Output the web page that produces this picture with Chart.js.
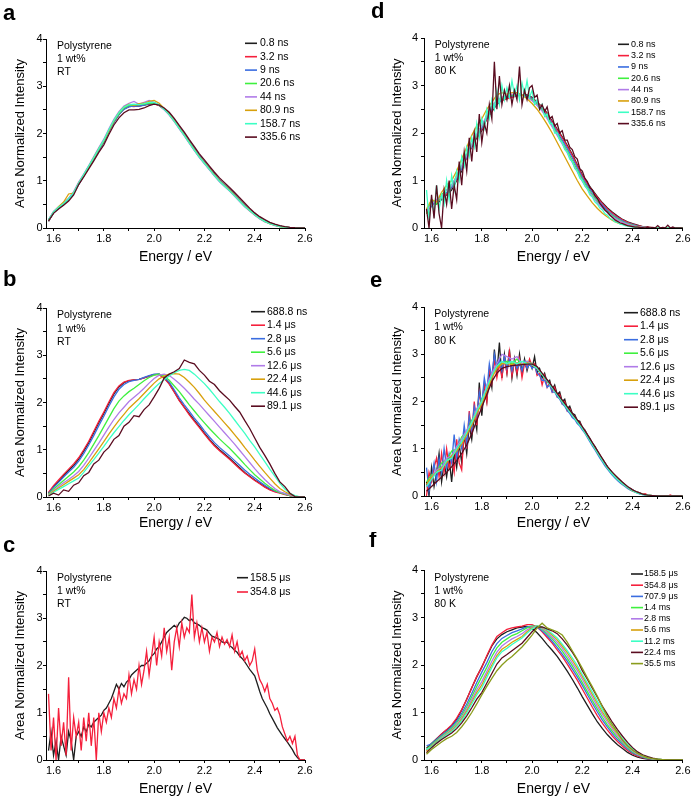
<!DOCTYPE html>
<html><head><meta charset="utf-8">
<script src="https://cdn.jsdelivr.net/npm/chart.js@4.4.0/dist/chart.umd.min.js"></script>
<style>
html,body{margin:0;padding:0;background:#fff;}
body{width:692px;height:799px;position:relative;overflow:hidden;}
.pan{position:absolute;width:346px;height:266px;}
canvas{display:block;}
</style></head><body>
<div class="pan" style="left:0;top:0"><canvas id="ca" width="346" height="266"></canvas></div>
<div class="pan" style="left:346px;top:0"><canvas id="cd" width="346" height="266"></canvas></div>
<div class="pan" style="left:0;top:266px"><canvas id="cb" width="346" height="266"></canvas></div>
<div class="pan" style="left:346px;top:266px"><canvas id="ce" width="346" height="266"></canvas></div>
<div class="pan" style="left:0;top:532px"><canvas id="cc" width="346" height="266"></canvas></div>
<div class="pan" style="left:346px;top:532px"><canvas id="cf" width="346" height="266"></canvas></div>
<script>
// ---------- energy grids (eV) ----------
const E2 = [1.58,1.60,1.62,1.64,1.66,1.68,1.70,1.72,1.74,1.76,1.78,1.80,1.82,1.84,1.86,1.88,1.90,1.92,1.94,1.96,1.98,2.00,2.02,2.04,2.06,2.08,2.10,2.12,2.14,2.16,2.18,2.20,2.22,2.24,2.26,2.28,2.30,2.32,2.34,2.36,2.38,2.40,2.42,2.44,2.46,2.48,2.50,2.52,2.54,2.56,2.58,2.60];
const E1 = [1.58,1.59,1.60,1.61,1.62,1.63,1.64,1.65,1.66,1.67,1.68,1.69,1.70,1.71,1.72,1.73,1.74,1.75,1.76,1.77,1.78,1.79,1.80,1.81,1.82,1.83,1.84,1.85,1.86,1.87,1.88,1.89,1.90,1.91,1.92,1.93,1.94,1.95,1.96,1.97,1.98,1.99,2.00,2.01,2.02,2.03,2.04,2.05,2.06,2.07,2.08,2.09,2.10,2.11,2.12,2.13,2.14,2.15,2.16,2.17,2.18,2.19,2.20,2.21,2.22,2.23,2.24,2.25,2.26,2.27,2.28,2.29,2.30,2.31,2.32,2.33,2.34,2.35,2.36,2.37,2.38,2.39,2.40,2.41,2.42,2.43,2.44,2.45,2.46,2.47,2.48,2.49,2.50,2.51,2.52,2.53,2.54,2.55,2.56,2.57,2.58,2.59,2.60];

// ---------- axis ranges ----------
const X_MIN = 1.57, X_MAX = 2.6, Y_MIN = 0, Y_MAX = 4;

// ---------- panel a (RT, ns) ----------
const aLabels = ['0.8 ns','3.2 ns','9 ns','20.6 ns','44 ns','80.9 ns','158.7 ns','335.6 ns'];
const a_0_8 = [0.14,0.33,0.42,0.50,0.60,0.73,0.93,1.10,1.28,1.46,1.65,1.82,2.04,2.24,2.40,2.52,2.57,2.58,2.58,2.60,2.62,2.64,2.60,2.52,2.42,2.29,2.14,1.99,1.83,1.68,1.53,1.40,1.27,1.14,1.02,0.92,0.82,0.71,0.60,0.49,0.39,0.30,0.22,0.16,0.11,0.07,0.04,0.02,0.01,0.005,0,0];
const a_3_2 = [0.16,0.32,0.43,0.51,0.61,0.74,0.94,1.11,1.29,1.47,1.66,1.83,2.05,2.25,2.41,2.53,2.58,2.57,2.59,2.61,2.63,2.63,2.59,2.51,2.41,2.28,2.13,1.98,1.82,1.67,1.52,1.39,1.26,1.13,1.01,0.91,0.81,0.70,0.59,0.48,0.38,0.29,0.21,0.15,0.10,0.06,0.04,0.02,0.01,0.005,0,0];
const a_9 = [0.15,0.32,0.42,0.50,0.60,0.73,0.92,1.10,1.28,1.46,1.64,1.82,2.04,2.24,2.40,2.51,2.57,2.58,2.58,2.60,2.63,2.64,2.60,2.52,2.42,2.29,2.14,1.99,1.83,1.68,1.53,1.39,1.26,1.13,1.01,0.91,0.81,0.70,0.59,0.48,0.38,0.29,0.21,0.15,0.10,0.06,0.04,0.02,0.01,0.005,0,0];
const a_20_6 = [0.17,0.34,0.44,0.52,0.62,0.75,0.95,1.12,1.30,1.48,1.67,1.84,2.06,2.26,2.42,2.54,2.60,2.60,2.61,2.62,2.64,2.65,2.60,2.51,2.40,2.26,2.11,1.96,1.80,1.65,1.50,1.37,1.24,1.11,0.99,0.89,0.79,0.68,0.57,0.46,0.37,0.28,0.20,0.14,0.09,0.06,0.03,0.02,0.01,0,0,0];
const a_44 = [0.18,0.35,0.45,0.53,0.63,0.77,0.97,1.14,1.32,1.51,1.70,1.88,2.10,2.30,2.46,2.58,2.64,2.68,2.62,2.66,2.70,2.66,2.60,2.50,2.39,2.25,2.10,1.95,1.79,1.64,1.49,1.36,1.23,1.10,0.98,0.88,0.78,0.67,0.56,0.45,0.36,0.27,0.19,0.13,0.09,0.05,0.03,0.02,0.01,0,0,0];
const a_80_9 = [0.16,0.33,0.45,0.55,0.72,0.74,0.95,1.12,1.30,1.49,1.68,1.85,2.06,2.27,2.44,2.56,2.62,2.60,2.63,2.64,2.68,2.70,2.64,2.53,2.41,2.27,2.12,1.97,1.81,1.66,1.51,1.38,1.25,1.12,1.00,0.90,0.80,0.69,0.58,0.47,0.37,0.28,0.20,0.14,0.09,0.06,0.03,0.02,0.01,0,0,0];
const a_158_7 = [0.17,0.34,0.44,0.52,0.62,0.75,0.95,1.13,1.31,1.49,1.68,1.86,2.08,2.28,2.44,2.56,2.61,2.62,2.61,2.63,2.66,2.66,2.61,2.51,2.40,2.26,2.11,1.96,1.80,1.65,1.50,1.37,1.24,1.11,0.99,0.89,0.79,0.68,0.57,0.46,0.37,0.28,0.20,0.14,0.09,0.06,0.03,0.02,0.01,0,0,0];
const a_335_6 = [0.15,0.31,0.40,0.48,0.57,0.70,0.92,1.08,1.25,1.42,1.60,1.76,1.98,2.18,2.33,2.44,2.50,2.50,2.51,2.54,2.59,2.62,2.60,2.54,2.45,2.32,2.17,2.03,1.87,1.72,1.57,1.44,1.31,1.18,1.06,0.96,0.86,0.75,0.64,0.53,0.42,0.32,0.24,0.18,0.12,0.08,0.05,0.03,0.015,0.005,0,0];

// ---------- panel b (RT, ns-us) ----------
const bLabels = ['688.8 ns','1.4 \u03bcs','2.8 \u03bcs','5.6 \u03bcs','12.6 \u03bcs','22.4 \u03bcs','44.6 \u03bcs','89.1 \u03bcs'];
const b_688_8 = [0.08,0.22,0.33,0.45,0.56,0.67,0.80,0.97,1.15,1.36,1.57,1.77,1.98,2.18,2.33,2.42,2.46,2.48,2.49,2.52,2.56,2.59,2.60,2.52,2.40,2.23,2.05,1.90,1.76,1.62,1.49,1.35,1.22,1.10,1.00,0.91,0.82,0.72,0.62,0.52,0.44,0.36,0.29,0.22,0.16,0.12,0.09,0.06,0.03,0,0,0];
const b_1_4 = [0.10,0.24,0.36,0.48,0.59,0.70,0.83,1.00,1.18,1.39,1.60,1.80,2.01,2.21,2.35,2.43,2.47,2.48,2.49,2.52,2.56,2.59,2.59,2.51,2.39,2.22,2.04,1.89,1.74,1.60,1.47,1.33,1.20,1.08,0.98,0.89,0.80,0.70,0.60,0.51,0.43,0.35,0.28,0.21,0.15,0.11,0.08,0.05,0.03,0,0,0];
const b_2_8 = [0.07,0.20,0.31,0.42,0.53,0.63,0.76,0.92,1.10,1.30,1.51,1.71,1.92,2.12,2.28,2.38,2.44,2.47,2.49,2.53,2.57,2.60,2.60,2.54,2.43,2.27,2.10,1.95,1.81,1.67,1.54,1.40,1.27,1.15,1.05,0.96,0.87,0.77,0.67,0.57,0.48,0.40,0.32,0.25,0.18,0.13,0.10,0.07,0.04,0.01,0,0];
const b_5_6 = [0.06,0.17,0.26,0.35,0.44,0.53,0.64,0.78,0.94,1.12,1.30,1.49,1.68,1.87,2.03,2.14,2.23,2.30,2.38,2.46,2.53,2.58,2.60,2.56,2.47,2.35,2.23,2.09,1.95,1.82,1.69,1.57,1.45,1.34,1.23,1.13,1.03,0.92,0.81,0.69,0.58,0.47,0.38,0.29,0.21,0.14,0.09,0.06,0.03,0.01,0,0];
const b_12_6 = [0.05,0.14,0.22,0.30,0.37,0.45,0.54,0.67,0.82,0.98,1.14,1.31,1.48,1.64,1.78,1.90,2.02,2.11,2.20,2.30,2.41,2.51,2.58,2.60,2.57,2.49,2.40,2.30,2.19,2.07,1.96,1.84,1.72,1.60,1.48,1.36,1.24,1.12,0.99,0.86,0.73,0.60,0.48,0.37,0.27,0.18,0.11,0.07,0.04,0.01,0,0];
const b_22_4 = [0.04,0.12,0.19,0.26,0.33,0.40,0.47,0.58,0.72,0.87,1.02,1.17,1.33,1.48,1.62,1.75,1.88,1.98,2.08,2.19,2.30,2.41,2.50,2.56,2.60,2.61,2.60,2.53,2.43,2.32,2.19,2.05,1.93,1.81,1.69,1.57,1.45,1.32,1.19,1.05,0.92,0.78,0.65,0.52,0.40,0.28,0.18,0.11,0.06,0.02,0,0];
const b_44_6 = [0.03,0.10,0.16,0.22,0.28,0.34,0.40,0.52,0.66,0.79,0.93,1.07,1.22,1.36,1.49,1.62,1.74,1.85,1.96,2.08,2.19,2.30,2.40,2.48,2.56,2.63,2.68,2.70,2.68,2.60,2.50,2.40,2.28,2.15,2.02,1.90,1.77,1.63,1.49,1.35,1.20,1.06,0.90,0.75,0.59,0.44,0.29,0.17,0.08,0.03,0,0];
const b_89_1 = [0.02,0.08,0.04,0.15,0.12,0.25,0.30,0.45,0.52,0.70,0.78,0.95,1.05,1.22,1.30,1.50,1.58,1.72,1.70,1.85,1.95,2.12,2.30,2.52,2.60,2.65,2.72,2.90,2.85,2.82,2.68,2.58,2.45,2.38,2.25,2.15,2.05,1.92,1.80,1.62,1.45,1.25,1.05,0.88,0.70,0.50,0.32,0.22,0.08,0.01,0,0];

// ---------- panel c (RT, us) ----------
const cLabels = ['158.5 \u03bcs','354.8 \u03bcs'];
const c_158_5 = [0.2,0.6,0.1,0.4,0.0,0.5,0.3,0.1,0.6,0.4, 0.0,0.5,0.6,0.5,0.7,0.6,0.75,0.7,0.8,0.85, 0.9,0.95,1.05,1.1,1.2,1.3,1.45,1.6,1.5,1.62, 1.55,1.65,1.7,1.8,1.85,1.9,1.95,2.0,2.0,2.05, 2.1,2.2,2.25,2.35,2.4,2.5,2.6,2.7,2.75,2.8, 2.85,2.8,2.9,2.95,3.02,3.0,2.95,2.98,2.9,2.88, 2.85,2.8,2.78,2.75,2.68,2.62,2.6,2.58,2.55,2.5, 2.48,2.5,2.42,2.38,2.32,2.28,2.2,2.15,2.08,2.0, 1.92,1.85,1.78,1.62,1.45,1.3,1.2,1.1,0.98,0.88, 0.78,0.68,0.6,0.52,0.45,0.38,0.3,0.22,0.12,0.05, 0,0,0];
const c_354_8 = [1.4,0.2,0.9,0.0,1.1,0.3,0.8,0.1,1.75,0.2, 0.9,0.5,0.8,0.2,0.9,0.4,1.0,0.3,0.9,0.0, 1.0,0.6,1.0,0.8,1.1,0.9,1.3,1.1,1.5,1.2, 1.4,1.3,1.8,1.4,1.7,1.5,2.0,1.6,1.9,2.3, 1.8,2.2,2.6,2.0,2.5,2.2,2.8,2.3,2.6,1.9, 2.5,2.8,2.4,2.9,2.6,2.8,2.7,3.5,2.6,2.9, 2.5,2.8,2.5,2.7,2.3,2.6,2.5,2.7,2.4,2.6, 2.45,2.55,2.4,2.65,2.3,2.5,2.2,2.3,2.1,2.2, 2.0,2.1,2.35,1.9,1.7,1.6,1.45,1.6,1.3,1.2, 1.05,1.1,0.95,0.7,0.55,0.4,0.5,0.35,0.5,0.1, 0,0,0];

// ---------- panel d (80 K, ns) ----------
const dLabels = ['0.8 ns','3.2 ns','9 ns','20.6 ns','44 ns','80.9 ns','158.7 ns','335.6 ns'];
const d_0_8 = [0.35,0.55,0.5,0.6,0.7,0.8,1.0,1.2,1.5,1.7,1.9,2.05,2.3,2.45,2.6,2.7,2.75,2.78,2.8,2.8,2.8,2.75,2.65,2.55,2.42,2.25,2.08,1.92,1.74,1.55,1.33,1.12,0.95,0.80,0.66,0.53,0.42,0.33,0.25,0.18,0.13,0.09,0.06,0.03,0.02,0.01,0.005,0,0,0,0,0];
const d_3_2 = [0.3,0.5,0.55,0.62,0.72,0.85,1.02,1.25,1.48,1.72,1.92,2.08,2.3,2.48,2.62,2.68,2.72,2.75,2.78,2.8,2.78,2.73,2.64,2.54,2.4,2.23,2.06,1.9,1.72,1.53,1.31,1.1,0.93,0.78,0.64,0.51,0.4,0.31,0.23,0.17,0.12,0.08,0.05,0.03,0.02,0.01,0,0,0,0,0,0];
const d_9 = [0.4,0.45,0.6,0.65,0.75,0.85,1.05,1.25,1.5,1.72,1.95,2.1,2.32,2.5,2.62,2.7,2.75,2.78,2.8,2.8,2.78,2.72,2.62,2.5,2.36,2.2,2.02,1.85,1.67,1.48,1.27,1.06,0.89,0.74,0.6,0.48,0.37,0.28,0.21,0.15,0.1,0.07,0.04,0.02,0.01,0,0,0,0,0,0,0];
const d_20_6 = [0.3,0.6,0.5,0.7,0.8,0.9,1.1,1.3,1.55,1.75,1.95,2.15,2.35,2.55,2.68,2.72,2.78,2.8,2.82,2.8,2.76,2.7,2.6,2.48,2.33,2.16,1.98,1.8,1.62,1.42,1.22,1.02,0.85,0.7,0.56,0.44,0.34,0.26,0.19,0.13,0.09,0.06,0.03,0.02,0.01,0,0,0,0,0,0,0];
const d_44 = [0.35,0.5,0.6,0.65,0.8,0.9,1.08,1.3,1.52,1.75,1.98,2.15,2.38,2.55,2.7,2.75,2.8,2.82,2.82,2.8,2.75,2.68,2.58,2.46,2.3,2.13,1.95,1.77,1.58,1.38,1.18,0.98,0.82,0.67,0.53,0.42,0.32,0.24,0.17,0.12,0.08,0.05,0.03,0.02,0.01,0,0,0,0,0,0,0];
const d_80_9 = [0.4,0.6,0.55,0.75,0.9,1.0,1.2,1.45,1.7,1.95,2.15,2.3,2.5,2.65,2.8,2.85,2.82,2.85,2.85,2.8,2.72,2.62,2.5,2.35,2.18,2.0,1.8,1.6,1.4,1.2,1.0,0.82,0.67,0.53,0.41,0.31,0.23,0.16,0.11,0.08,0.05,0.03,0.02,0.01,0,0,0,0,0,0,0,0];
const d_158_7 = [0.8,0.2,0.6,0.3,0.9,0.4,0.7,0.5,1.0,0.6, 1.1,0.8,1.2,1.0,1.5,1.3,1.7,1.5,1.9,1.7, 2.2,1.9,2.3,2.1,2.5,2.3,2.7,2.5,2.9,2.6, 3.0,2.7,2.95,2.75,3.1,2.8,3.0,2.7,3.05,2.8, 3.1,2.75,2.9,2.6,2.7,2.5,2.6,2.35,2.4,2.2, 2.2,2.0,2.0,1.85,1.8,1.65,1.6,1.45,1.4,1.25, 1.2,1.05,1.0,0.88,0.82,0.7,0.65,0.55,0.5,0.42, 0.38,0.3,0.27,0.2,0.18,0.13,0.12,0.08,0.07,0.05, 0.04,0.03,0.02,0.02,0.01,0.01,0,0,0,0, 0,0,0,0,0,0,0,0,0,0, 0,0,0];
const d_335_6 = [0.4,0.0,0.7,0.2,0.9,0.3,0.0,0.8,0.5,1.0, 0.4,0.9,0.6,1.4,0.9,1.6,1.2,1.9,1.4,2.0, 1.6,2.4,1.8,2.2,2.0,2.6,2.3,3.5,2.5,3.2, 2.6,2.9,2.7,3.0,2.6,2.9,2.7,3.4,2.6,2.9, 2.7,2.95,3.0,2.75,2.8,2.5,2.6,2.45,2.55,2.3, 2.35,2.15,2.2,2.0,2.05,1.85,1.85,1.7,1.65,1.5, 1.45,1.25,1.2,1.05,0.98,0.85,0.8,0.68,0.62,0.52, 0.45,0.38,0.33,0.27,0.22,0.17,0.14,0.11,0.09,0.07, 0.05,0.04,0.03,0.02,0.02,0.01,0.01,0,0.02,0, 0.01,0,0.05,0,0.01,0,0.06,0,0.02,0, 0,0,0];

// ---------- panel e (80 K, ns-us) ----------
const eLabels = ['688.8 ns','1.4 \u03bcs','2.8 \u03bcs','5.6 \u03bcs','12.6 \u03bcs','22.4 \u03bcs','44.6 \u03bcs','89.1 \u03bcs'];
const e_688_8 = [0.3,0.0,0.6,0.2,0.5,0.9,0.3,0.7,0.4,0.8, 0.3,0.9,0.6,1.1,0.7,1.3,0.9,1.5,1.2,1.7, 1.4,2.4,1.7,2.3,2.0,2.6,2.3,3.1,2.6,3.25, 2.5,3.0,2.6,3.1,2.5,2.9,2.55,3.0,2.6,2.9, 2.65,2.85,2.7,2.95,2.6,2.7,2.5,2.6,2.4,2.45, 2.25,2.35,2.15,2.2,2.0,2.05,1.85,1.9,1.75,1.72, 1.6,1.58,1.45,1.4,1.3,1.22,1.12,1.05,0.95,0.86, 0.78,0.7,0.62,0.55,0.49,0.43,0.38,0.33,0.28,0.23, 0.19,0.16,0.13,0.1,0.08,0.06,0.04,0.03,0.02,0.01, 0.01,0,0,0,0,0,0,0,0,0, 0,0,0];
const e_1_4 = [0.0,0.5,0.3,0.6,0.8,0.4,0.9,0.5,1.0,0.6, 0.8,0.5,1.2,0.7,0.55,1.4,1.0,1.8,1.3,2.0, 1.5,2.2,1.9,2.4,2.0,2.7,2.4,2.9,2.5,2.8, 2.5,2.9,2.6,3.05,2.55,2.85,2.6,2.9,2.5,2.8, 2.7,2.9,2.75,2.8,2.55,2.6,2.35,2.55,2.3,2.4, 2.2,2.3,2.1,2.15,1.95,2.0,1.8,1.85,1.7,1.68, 1.55,1.55,1.42,1.38,1.28,1.2,1.1,1.02,0.93,0.84, 0.76,0.68,0.6,0.53,0.47,0.41,0.36,0.31,0.26,0.22, 0.18,0.15,0.12,0.09,0.07,0.05,0.04,0.05,0.02,0.01, 0,0,0,0,0,0,0,0.02,0,0, 0,0,0];
const e_2_8 = [0.6,0.1,0.4,0.7,0.3,0.8,0.5,1.0,0.6,0.9, 0.7,1.3,0.8,1.2,1.0,1.5,1.1,1.7,1.4,1.9, 1.7,2.2,1.95,2.5,2.2,2.8,2.5,3.0,2.7,2.9, 2.65,2.95,2.7,2.9,2.65,2.85,2.7,2.8,2.65,2.85, 2.7,2.8,2.7,2.75,2.6,2.55,2.45,2.45,2.3,2.35, 2.2,2.2,2.1,2.05,1.95,1.9,1.8,1.75,1.66,1.62, 1.53,1.48,1.4,1.33,1.24,1.15,1.06,0.98,0.89,0.8, 0.72,0.64,0.57,0.5,0.44,0.38,0.33,0.28,0.24,0.2, 0.16,0.13,0.1,0.08,0.06,0.04,0.03,0.02,0.01,0, 0,0,0,0,0,0,0,0,0,0, 0,0,0];
const e_5_6 = [0.3,0.45,0.5,0.7,0.75,0.95,1.0,1.25,1.35,1.6,1.8,2.05,2.3,2.55,2.75,2.8,2.85,2.8,2.9,2.78,2.85,2.8,2.7,2.58,2.44,2.3,2.15,2.0,1.86,1.72,1.58,1.44,1.27,1.1,0.93,0.76,0.6,0.47,0.36,0.27,0.19,0.12,0.07,0.04,0.02,0.01,0,0,0,0,0,0];
const e_12_6 = [0.2,0.4,0.55,0.6,0.8,0.85,1.05,1.2,1.4,1.55,1.85,2.0,2.35,2.6,2.8,3.0,2.95,2.9,2.95,2.8,2.85,2.78,2.7,2.58,2.45,2.3,2.15,2.01,1.87,1.73,1.59,1.45,1.28,1.11,0.94,0.77,0.61,0.48,0.37,0.27,0.19,0.12,0.07,0.04,0.02,0.01,0,0,0,0,0,0];
const e_22_4 = [0.25,0.4,0.5,0.6,0.7,0.85,0.95,1.1,1.3,1.5,1.75,1.95,2.2,2.5,2.7,2.8,2.8,2.78,2.82,2.78,2.82,2.78,2.7,2.58,2.44,2.3,2.15,2.0,1.86,1.72,1.58,1.44,1.27,1.1,0.93,0.76,0.6,0.47,0.36,0.26,0.18,0.11,0.07,0.04,0.02,0.01,0,0,0,0,0,0];
const e_44_6 = [0.2,0.35,0.5,0.55,0.75,0.8,1.0,1.15,1.35,1.55,1.8,2.0,2.3,2.55,2.75,2.85,2.8,2.85,2.8,2.85,2.8,2.78,2.7,2.57,2.43,2.29,2.14,2.0,1.85,1.71,1.57,1.43,1.26,1.09,0.92,0.75,0.59,0.46,0.35,0.26,0.18,0.11,0.06,0.03,0.02,0.01,0,0,0,0,0,0];
const e_89_1 = [0.1,0.2,0.3,0.4,0.5,0.62,0.75,0.9,1.08,1.32,1.6,1.88,2.15,2.42,2.6,2.7,2.74,2.76,2.77,2.78,2.79,2.79,2.74,2.6,2.46,2.32,2.17,2.03,1.89,1.75,1.61,1.47,1.3,1.13,0.96,0.79,0.62,0.5,0.39,0.29,0.2,0.13,0.08,0.04,0.02,0.01,0,0,0,0,0,0];

// ---------- panel f (80 K, us-ms) ----------
const fLabels = ['158.5 \u03bcs','354.8 \u03bcs','707.9 \u03bcs','1.4 ms','2.8 ms','5.6 ms','11.2 ms','22.4 ms','35.5 ms'];
const f_158_5 = [0.25,0.35,0.45,0.55,0.63,0.72,0.86,1.05,1.28,1.52,1.75,1.96,2.18,2.4,2.55,2.64,2.7,2.74,2.78,2.8,2.81,2.77,2.68,2.56,2.43,2.31,2.18,2.03,1.87,1.7,1.52,1.33,1.15,0.97,0.8,0.66,0.53,0.42,0.32,0.24,0.16,0.1,0.06,0.035,0.02,0.01,0,0,0,0,0,0];
const f_354_8 = [0.2,0.33,0.44,0.55,0.64,0.74,0.88,1.06,1.28,1.52,1.76,1.95,2.2,2.42,2.6,2.68,2.75,2.78,2.8,2.82,2.85,2.85,2.8,2.7,2.58,2.46,2.32,2.18,2.02,1.85,1.68,1.49,1.3,1.11,0.93,0.77,0.63,0.5,0.39,0.29,0.2,0.13,0.08,0.05,0.03,0.015,0.005,0,0,0,0,0];
const f_707_9 = [0.3,0.34,0.43,0.52,0.6,0.7,0.82,0.98,1.18,1.4,1.63,1.85,2.05,2.28,2.45,2.56,2.62,2.68,2.72,2.76,2.8,2.82,2.8,2.72,2.62,2.5,2.37,2.23,2.08,1.92,1.75,1.57,1.38,1.19,1.01,0.84,0.69,0.55,0.43,0.33,0.23,0.15,0.1,0.06,0.03,0.02,0.01,0,0,0,0,0];
const f_1400 = [0.22,0.32,0.41,0.5,0.58,0.67,0.78,0.93,1.12,1.33,1.55,1.75,1.95,2.18,2.36,2.48,2.55,2.62,2.66,2.72,2.78,2.82,2.82,2.75,2.66,2.55,2.43,2.29,2.14,1.98,1.81,1.63,1.44,1.25,1.07,0.9,0.74,0.6,0.47,0.36,0.26,0.17,0.11,0.07,0.04,0.02,0.01,0,0,0,0,0];
const f_2800 = [0.2,0.3,0.39,0.48,0.56,0.64,0.75,0.89,1.07,1.27,1.48,1.65,1.86,2.08,2.27,2.4,2.48,2.55,2.6,2.66,2.74,2.8,2.82,2.77,2.69,2.59,2.48,2.35,2.2,2.04,1.88,1.7,1.51,1.32,1.13,0.96,0.8,0.65,0.51,0.39,0.28,0.19,0.12,0.08,0.05,0.02,0.01,0,0,0,0,0];
const f_5600 = [0.18,0.29,0.38,0.46,0.54,0.62,0.72,0.86,1.03,1.22,1.42,1.58,1.8,2.0,2.2,2.33,2.4,2.48,2.54,2.6,2.7,2.78,2.82,2.79,2.72,2.63,2.53,2.4,2.26,2.1,1.94,1.76,1.57,1.38,1.19,1.01,0.85,0.69,0.55,0.42,0.3,0.21,0.14,0.09,0.05,0.03,0.01,0,0,0,0,0];
const f_11200 = [0.22,0.28,0.37,0.45,0.53,0.6,0.7,0.83,0.99,1.18,1.37,1.52,1.74,1.95,2.15,2.28,2.35,2.43,2.5,2.57,2.67,2.76,2.82,2.8,2.74,2.66,2.57,2.44,2.3,2.15,1.99,1.8,1.62,1.43,1.24,1.06,0.89,0.73,0.58,0.45,0.33,0.23,0.15,0.1,0.06,0.03,0.02,0.01,0,0,0,0];
const f_22400 = [0.15,0.26,0.35,0.43,0.5,0.57,0.66,0.78,0.93,1.1,1.28,1.42,1.62,1.82,2.02,2.15,2.22,2.3,2.38,2.46,2.58,2.7,2.8,2.8,2.76,2.72,2.66,2.55,2.42,2.27,2.1,1.88,1.7,1.51,1.32,1.13,0.96,0.79,0.64,0.5,0.37,0.26,0.17,0.11,0.07,0.04,0.02,0.01,0,0,0,0];
const f_35500 = [0.12,0.22,0.3,0.38,0.45,0.5,0.58,0.7,0.84,1.0,1.18,1.37,1.55,1.72,1.88,2.0,2.1,2.18,2.28,2.38,2.5,2.63,2.78,2.88,2.78,2.74,2.7,2.63,2.48,2.3,2.12,1.93,1.73,1.54,1.34,1.12,0.91,0.74,0.58,0.42,0.3,0.21,0.14,0.09,0.05,0.03,0.02,0.01,0,0,0,0];

// ---------- styles ----------
const FONT = 'Arial, "Liberation Sans", Helvetica, sans-serif';
const C = {k:'#1e1e1e', r:'#f5203c', b:'#3a6de0', g:'#3ff03f', p:'#b07be8', o:'#d8a00c', c:'#3cffc4', m:'#5a0c20', ol:'#8a9c1c'};
const EIGHT = [C.k, C.r, C.b, C.g, C.p, C.o, C.c, C.m];

function pts(xs, ys) {
  const n = Math.min(xs.length, ys.length);
  const out = [];
  for (let i = 0; i < n; i++) out.push({x: xs[i], y: ys[i]});
  return out;
}

function makePanel(id, P) {
  const n = P.series.length;
  const datasets = P.series.map((s, i) => ({
    label: s.label, data: pts(s.xs, s.ys), borderColor: s.color,
    borderWidth: 1.3, pointRadius: 0, fill: false, tension: 0, order: n - i
  }));
  const overlay = {
    id: 'overlay_' + id,
    afterDraw(chart) {
      const ctx = chart.ctx;
      ctx.save();
      ctx.fillStyle = '#000';
      ctx.textAlign = 'left';
      ctx.textBaseline = 'alphabetic';
      ctx.font = 'bold 22px ' + FONT;
      ctx.fillText(P.letter.t, P.letter.x, P.letter.y);
      ctx.textBaseline = 'middle';
      ctx.font = '10.5px ' + FONT;
      P.note.lines.forEach((t, i) => ctx.fillText(t, P.note.x, P.note.y + i * P.note.dy));
      ctx.font = P.leg.fs + 'px ' + FONT;
      P.series.forEach((s, i) => {
        const y = P.leg.y + i * P.leg.dy;
        ctx.strokeStyle = s.color; ctx.lineWidth = 1.6;
        ctx.beginPath(); ctx.moveTo(P.leg.x1, y); ctx.lineTo(P.leg.x2, y); ctx.stroke();
        ctx.fillStyle = '#000';
        ctx.fillText(s.label, P.leg.tx, y);
      });
      ctx.restore();
    }
  };
  new Chart(document.getElementById(id), {
    type: 'line',
    data: {datasets},
    options: {
      responsive: false, animation: false, events: [],
      layout: {padding: {left: 0, top: P.area.t, right: 346 - P.area.r, bottom: 0}},
      plugins: {legend: {display: false}, tooltip: {enabled: false}},
      scales: {
        x: {
          type: 'linear', min: X_MIN, max: X_MAX,
          afterFit: s => { s.height = 266 - P.area.b; },
          border: {display: true, color: '#000', width: 1},
          grid: {drawOnChartArea: false, drawTicks: true, tickLength: 3, color: '#000', lineWidth: 1},
          ticks: {stepSize: 0.1, includeBounds: false, autoSkip: false, maxRotation: 0, padding: 1.5, color: '#000',
            font: {family: FONT, size: 11},
            callback: v => { const k = Math.round(v * 10); return k % 2 === 0 ? (k / 10).toFixed(1) : ''; }},
          title: {display: true, text: 'Energy / eV', color: '#000', font: {family: FONT, size: 14}, padding: {top: 0, bottom: 0.5}}
        },
        y: {
          type: 'linear', min: Y_MIN, max: Y_MAX,
          afterFit: s => { s.width = P.area.l; },
          border: {display: true, color: '#000', width: 1},
          grid: {drawOnChartArea: false, drawTicks: true, tickLength: 3, color: '#000', lineWidth: 1},
          ticks: {stepSize: 0.5, autoSkip: false, padding: P.ytp, color: '#000', font: {family: FONT, size: 11},
            callback: v => (Math.abs(v - Math.round(v)) < 1e-6 ? String(Math.round(v)) : '')},
          title: {display: true, text: 'Area Normalized Intensity', color: '#000', font: {family: FONT, size: 13}, padding: {top: P.ytitle, bottom: 0}}
        }
      }
    },
    plugins: [overlay]
  });
}

const L_AREA = (t, b) => ({l: 46, r: 305, t, b});
const R_AREA = (t, b) => ({l: 78, r: 337, t, b});

makePanel('ca', {
  letter: {t: 'a', x: 3, y: 20}, area: L_AREA(39, 228), ytp: 0.5, ytitle: 12.2,
  note: {x: 57, y: 45.7, dy: 13, lines: ['Polystyrene', '1 wt%', 'RT']},
  leg: {x1: 245, x2: 257, tx: 260, y: 43.3, dy: 13.4, fs: 10.5},
  series: [a_0_8, a_3_2, a_9, a_20_6, a_44, a_80_9, a_158_7, a_335_6].map((ys, i) => ({label: aLabels[i], color: EIGHT[i], xs: E2, ys}))
});
makePanel('cb', {
  letter: {t: 'b', x: 3, y: 20}, area: L_AREA(42, 231), ytp: 0.5, ytitle: 12.2,
  note: {x: 57, y: 49.3, dy: 13.5, lines: ['Polystyrene', '1 wt%', 'RT']},
  leg: {x1: 251, x2: 265, tx: 267, y: 45.7, dy: 13.5, fs: 10.5},
  series: [b_688_8, b_1_4, b_2_8, b_5_6, b_12_6, b_22_4, b_44_6, b_89_1].map((ys, i) => ({label: bLabels[i], color: EIGHT[i], xs: E2, ys}))
});
makePanel('cc', {
  letter: {t: 'c', x: 3, y: 20}, area: L_AREA(39, 228), ytp: 0.5, ytitle: 12.2,
  note: {x: 57, y: 45.7, dy: 13, lines: ['Polystyrene', '1 wt%', 'RT']},
  leg: {x1: 237, x2: 248, tx: 250, y: 45.7, dy: 14.3, fs: 10.5},
  series: [{label: cLabels[0], color: C.k, xs: E1, ys: c_158_5}, {label: cLabels[1], color: C.r, xs: E1, ys: c_354_8}]
});
makePanel('cd', {
  letter: {t: 'd', x: 25, y: 18.3}, area: R_AREA(38, 228), ytp: 3, ytitle: 43.9,
  note: {x: 88.7, y: 45, dy: 13.3, lines: ['Polystyrene', '1 wt%', '80 K']},
  leg: {x1: 272, x2: 283, tx: 285, y: 44.3, dy: 11.33, fs: 9},
  series: [d_0_8, d_3_2, d_9, d_20_6, d_44, d_80_9, d_158_7, d_335_6].map((ys, i) => ({label: dLabels[i], color: EIGHT[i], xs: (i >= 6 ? E1 : E2), ys}))
});
makePanel('ce', {
  letter: {t: 'e', x: 24, y: 20.7}, area: R_AREA(41, 230), ytp: 3, ytitle: 43.9,
  note: {x: 88.3, y: 48.3, dy: 13.3, lines: ['Polystyrene', '1 wt%', '80 K']},
  leg: {x1: 278, x2: 292, tx: 294, y: 46.7, dy: 13.5, fs: 10.5},
  series: [e_688_8, e_1_4, e_2_8, e_5_6, e_12_6, e_22_4, e_44_6, e_89_1].map((ys, i) => ({label: eLabels[i], color: EIGHT[i], xs: (i <= 2 ? E1 : E2), ys}))
});
makePanel('cf', {
  letter: {t: 'f', x: 23, y: 15}, area: R_AREA(38, 228), ytp: 3, ytitle: 43.9,
  note: {x: 88.3, y: 45.7, dy: 13.3, lines: ['Polystyrene', '1 wt%', '80 K']},
  leg: {x1: 285, x2: 297, tx: 298, y: 42, dy: 11.2, fs: 8.8},
  series: [f_158_5, f_354_8, f_707_9, f_1400, f_2800, f_5600, f_11200, f_22400, f_35500].map((ys, i) => ({label: fLabels[i], color: EIGHT.concat([C.ol])[i], xs: E2, ys}))
});
</script>
</body></html>
